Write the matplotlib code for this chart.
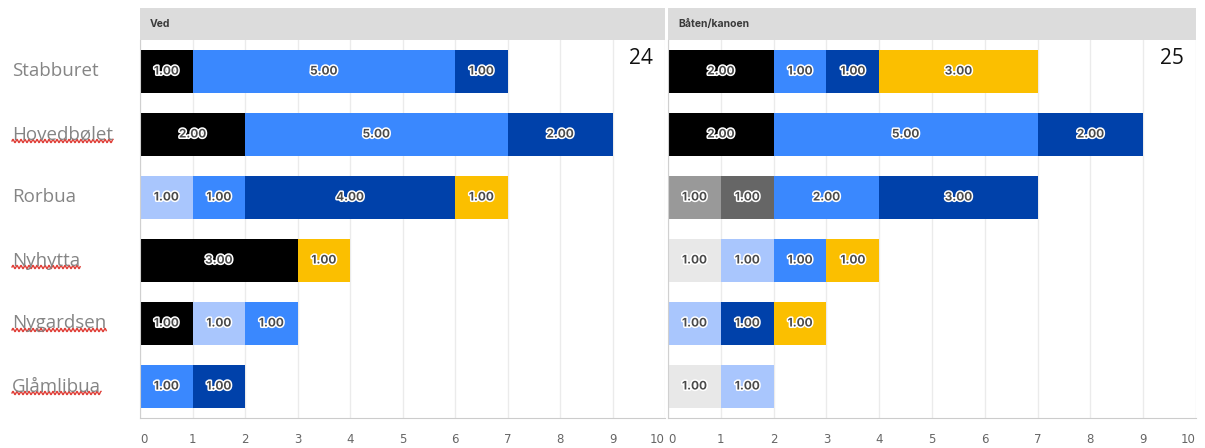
import numpy as np
import matplotlib
matplotlib.use("Agg")
import matplotlib.pyplot as plt
import matplotlib.patheffects as pe
from matplotlib.lines import Line2D
from matplotlib.transforms import blended_transform_factory

# %%
# data: rows and one stacked segment per series (left to right)
rows = ["Stabburet", "Hovedbølet", "Rorbua", "Nyhytta", "Nygardsen", "Glåmlibua"]
series = ["s1", "s2", "s3", "s4", "s5", "s6", "s7", "s8"]
panel_titles = ["Ved", "Båten/kanoen"]
panel_notes = ["24", "25"]
x_ticks = [0, 1, 2, 3, 4, 5, 6, 7, 8, 9, 10]

ved_values = [
    [0, 0, 0, 1, 0, 5, 1, 0],
    [0, 0, 0, 2, 0, 5, 2, 0],
    [0, 0, 0, 0, 1, 1, 4, 1],
    [0, 0, 0, 3, 0, 0, 0, 1],
    [0, 0, 0, 1, 1, 1, 0, 0],
    [0, 0, 0, 0, 0, 1, 1, 0],
]
baat_values = [
    [0, 0, 0, 2, 0, 1, 1, 3],
    [0, 0, 0, 2, 0, 5, 2, 0],
    [0, 1, 1, 0, 0, 2, 3, 0],
    [1, 0, 0, 0, 1, 1, 0, 1],
    [0, 0, 0, 0, 1, 0, 1, 1],
    [1, 0, 0, 0, 1, 0, 0, 0],
]
# rows with a spell-check squiggle in the original
squiggly = ["Hovedbølet", "Nyhytta", "Nygardsen", "Glåmlibua"]

colors = ["#e8e8e8", "#999999", "#666666", "#000000",
          "#a9c6fd", "#3a88fe", "#0041aa", "#fbbf00"]

W, H = 1205, 448
fig = plt.figure(figsize=(W / 100, H / 100), dpi=100)

# axes boxes in pixels: left, right, top, bottom
boxes = [(140, 665, 40, 418), (668, 1196, 40, 418)]
strip_px = 32

axes = []
for (l, r, t, b), title, note, values in zip(boxes, panel_titles, panel_notes,
                                             [ved_values, baat_values]):
    ax = fig.add_axes([l / W, 1 - b / H, (r - l) / W, (b - t) / H])
    axes.append(ax)
    vals = np.array(values, dtype=float)
    y = np.arange(len(rows))
    left = np.zeros(len(rows))
    for j, name in enumerate(series):
        w = vals[:, j]
        bars = ax.barh(y, w, left=left, height=0.67, color=colors[j],
                       linewidth=0, zorder=2, label=name)
        labels = [f"{v:.2f}" if v > 0 else "" for v in w]
        txts = ax.bar_label(bars, labels=labels, label_type="center",
                            fontsize=8.5, fontweight="bold", color="#4a4a4a",
                            family="Inter")
        for tx in txts:
            tx.set_path_effects([pe.withStroke(linewidth=2.2, foreground="white")])
        left += w

    ax.set_xlim(0, 10)
    ax.set_ylim(len(rows) - 0.5, -0.5)
    ax.set_yticks([])
    ax.set_xticks(x_ticks)
    ax.set_xticklabels([str(t) for t in x_ticks])
    ax.tick_params(axis="x", length=0, pad=11, labelsize=8.5, labelcolor="#666666")
    tl = ax.get_xticklabels()
    tl[0].set_ha("left")
    tl[-1].set_ha("right")
    ax.grid(axis="x", color="#ebebeb", linewidth=1, zorder=0)
    for s in ["top", "right"]:
        ax.spines[s].set_visible(False)
    ax.spines["left"].set_color("#d0d0d0")
    ax.spines["bottom"].set_color("#cccccc")

    # facet strip
    sh = strip_px / (b - t)
    ax.add_patch(plt.Rectangle((0, 1), 1, sh, transform=ax.transAxes,
                               facecolor="#dcdcdc", edgecolor="none", clip_on=False))
    ax.text(10 / (r - l), 1 + sh / 2, title, transform=ax.transAxes,
            ha="left", va="center", fontsize=7.5, fontweight="bold",
            color="#3a3a3a", family="Inter")

    ax.text(0.977, 0.952, note, transform=ax.transAxes, ha="right", va="center",
            fontsize=15, color="#111111", family="Open Sans")

# row labels, left aligned near the figure edge
trans = blended_transform_factory(fig.transFigure, axes[0].transData)
row_texts = []
for i, name in enumerate(rows):
    t = fig.text(12 / W, i, name, transform=trans, ha="left", va="center",
                 fontsize=13.5, color="#858585", family="Open Sans")
    row_texts.append(t)

# red wavy underline under the flagged words
fig.canvas.draw()
renderer = fig.canvas.get_renderer()
for t in row_texts:
    if t.get_text() not in squiggly:
        continue
    bb = t.get_window_extent(renderer)
    xs = np.linspace(bb.x0, bb.x1, 200)
    ys = bb.y0 + 2.5 + 1.6 * np.sin((xs - bb.x0) / 4.0 * 2 * np.pi)
    line = Line2D(xs / W, ys / H, transform=fig.transFigure,
                  color="#e0413a", linewidth=1.0)
    fig.add_artist(line)

fig.savefig("out.png", dpi=100)
